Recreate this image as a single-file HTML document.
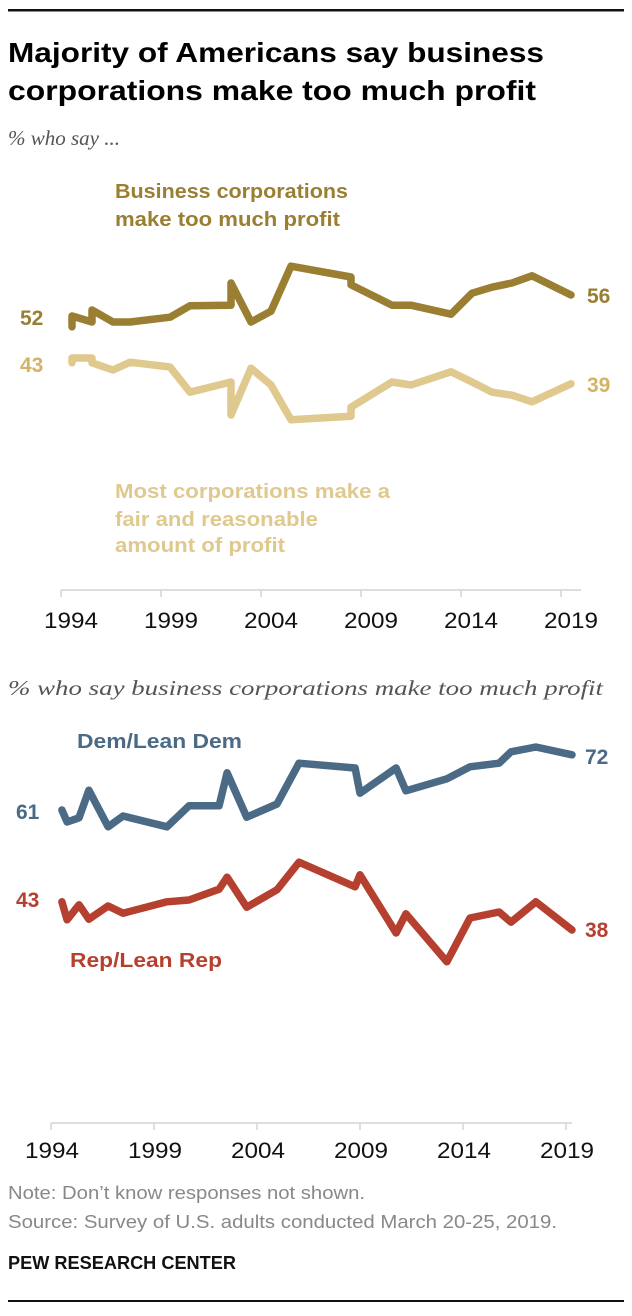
<!DOCTYPE html>
<html><head><meta charset="utf-8"><style>
html,body{margin:0;padding:0;background:#fff;}
svg{display:block;}
.t{font-family:"Liberation Sans",Arial,sans-serif;}
.s{font-family:"Liberation Serif",serif;font-style:italic;fill:#555;font-size:21px;}
</style></head><body>
<svg id="chart" width="632" height="1316" viewBox="0 0 632 1316" xmlns="http://www.w3.org/2000/svg">
<rect x="8" y="9" width="616" height="2.5" fill="#111"/>
<text class="t" x="8" y="62" font-size="28" font-weight="bold" textLength="536" lengthAdjust="spacingAndGlyphs">Majority of Americans say business</text>
<text class="t" x="8" y="100" font-size="28" font-weight="bold" textLength="528" lengthAdjust="spacingAndGlyphs">corporations make too much profit</text>
<text class="s" x="8" y="145">% who say ...</text>
<text class="t" x="115" y="198" font-size="20" font-weight="bold" fill="#9a7f32" textLength="233" lengthAdjust="spacingAndGlyphs">Business corporations</text>
<text class="t" x="115" y="226" font-size="20" font-weight="bold" fill="#9a7f32" textLength="225" lengthAdjust="spacingAndGlyphs">make too much profit</text>
<text class="t" x="115" y="498" font-size="20" font-weight="bold" fill="#e0c98e" textLength="275" lengthAdjust="spacingAndGlyphs">Most corporations make a</text>
<text class="t" x="115" y="526" font-size="20" font-weight="bold" fill="#e0c98e" textLength="203" lengthAdjust="spacingAndGlyphs">fair and reasonable</text>
<text class="t" x="115" y="552" font-size="20" font-weight="bold" fill="#e0c98e" textLength="170" lengthAdjust="spacingAndGlyphs">amount of profit</text>
<text class="t" x="20" y="325" font-size="21" font-weight="bold" fill="#9a7f32">52</text>
<text class="t" x="20" y="372" font-size="21" font-weight="bold" fill="#d4b365">43</text>
<text class="t" x="587" y="303" font-size="21" font-weight="bold" fill="#9a7f32">56</text>
<text class="t" x="587" y="392" font-size="21" font-weight="bold" fill="#d4b365">39</text>
<text class="s" x="8" y="695" textLength="595" lengthAdjust="spacingAndGlyphs">% who say business corporations make too much profit</text>
<text class="t" x="77" y="748" font-size="20" font-weight="bold" fill="#4a6a85" textLength="165" lengthAdjust="spacingAndGlyphs">Dem/Lean Dem</text>
<text class="t" x="70" y="967" font-size="20" font-weight="bold" fill="#b5402f" textLength="152" lengthAdjust="spacingAndGlyphs">Rep/Lean Rep</text>
<text class="t" x="16" y="819" font-size="21" font-weight="bold" fill="#4a6a85">61</text>
<text class="t" x="16" y="907" font-size="21" font-weight="bold" fill="#b5402f">43</text>
<text class="t" x="585" y="764" font-size="21" font-weight="bold" fill="#4a6a85">72</text>
<text class="t" x="585" y="937" font-size="21" font-weight="bold" fill="#b5402f">38</text>
<text class="t" x="8" y="1199" font-size="18" fill="#888" textLength="357" lengthAdjust="spacingAndGlyphs">Note: Don’t know responses not shown.</text>
<text class="t" x="8" y="1228" font-size="18" fill="#888" textLength="549" lengthAdjust="spacingAndGlyphs">Source: Survey of U.S. adults conducted March 20-25, 2019.</text>
<text class="t" x="8" y="1269" font-size="18" font-weight="bold" fill="#111" textLength="228" lengthAdjust="spacingAndGlyphs">PEW RESEARCH CENTER</text>
<rect x="8" y="1300" width="616" height="2" fill="#111"/>
<g id="g1"></g><g id="g2"></g>
</svg>
<script>
const tickYears = [1994, 1999, 2004, 2009, 2014, 2019];
const topYears = [1994.55,1994.55,1995.55,1995.55,1996.6,1997.45,1999.45,2000.45,2002.5,2002.5,2003.5,2004.5,2005.5,2008.5,2008.5,2010.55,2011.5,2013.5,2014.55,2015.55,2016.55,2017.55,2019.5];
const tooMuch = [52.2,54,53,55,53,53,53.8,55.7,55.8,59.5,53,54.8,62.3,60.5,59.2,55.8,55.8,54.3,57.8,58.8,59.5,60.7,57.5];
const topYearsFair = [1994.55,1994.55,1995.55,1995.55,1996.6,1997.45,1999.45,2000.45,2002.5,2002.5,2003.5,2004.5,2005.5,2008.5,2008.5,2010.55,2011.5,2013.5,2014.55,2015.55,2016.55,2017.55,2019.5];
const fair = [46.2,47,47,46.2,45,46.3,45.5,41.3,43,37.5,45.3,42.5,36.7,37.3,38.8,43,42.5,44.7,43,41.3,40.8,39.7,42.7];
const botYears = [1994.53,1994.78,1995.36,1995.84,1996.77,1997.5,1999.63,2000.7,2002.16,2002.55,2003.5,2004.97,2006.04,2008.76,2009,2010.75,2011.23,2013.22,2014.34,2015.75,2016.33,2017.54,2019.29];
const dem = [65,63,63.7,68.3,62.2,64,62.2,65.7,65.7,71.2,63.8,66,72.8,72,67.8,72,68.2,70.2,72.2,72.8,74.7,75.5,74.2];
const rep = [49.7,46.7,49.2,46.8,49,47.8,49.7,50,51.8,53.8,48.8,51.7,56.3,52.2,54.2,44.5,47.7,39.7,47,48,46.3,49.7,45];

const NS='http://www.w3.org/2000/svg';
const xTop = y => 61 + (y-1994)*20;
const yTop = v => 640 - 6*v;
const xBot = y => 51 + (y-1994)*20.6;
const yBot = v => 1200 - 6*v;

function axis(g, xs, yAxis, x0, x1, labelY, labelOff, prefix){
  const l=document.createElementNS(NS,'line');
  l.setAttribute('x1',x0);l.setAttribute('x2',x1);l.setAttribute('y1',yAxis);l.setAttribute('y2',yAxis);
  l.setAttribute('stroke','#d4d4d4');l.setAttribute('stroke-width','1.5');
  
  
  g.appendChild(l);
  tickYears.forEach(t=>{
    const tk=document.createElementNS(NS,'line');
    tk.setAttribute('x1',xs(t));tk.setAttribute('x2',xs(t));tk.setAttribute('y1',yAxis);tk.setAttribute('y2',yAxis+7);
    tk.setAttribute('stroke','#d4d4d4');tk.setAttribute('stroke-width','1.5');
    
    
    g.appendChild(tk);
    const tx=document.createElementNS(NS,'text');
    tx.setAttribute('x',xs(t)+labelOff-27);tx.setAttribute('y',labelY);
    tx.setAttribute('class','t');tx.setAttribute('font-size','22');tx.setAttribute('fill','#111');
    tx.setAttribute('textLength','54');tx.setAttribute('lengthAdjust','spacingAndGlyphs');
    tx.textContent=t;
    
    
    g.appendChild(tx);
  });
}
function line(g, xs, ys, years, vals, color, name){
  const p=document.createElementNS(NS,'polyline');
  p.setAttribute('points',years.map((y,i)=>xs(y).toFixed(1)+','+ys(vals[i]).toFixed(1)).join(' '));
  p.setAttribute('fill','none');p.setAttribute('stroke',color);p.setAttribute('stroke-width','7.5');
  p.setAttribute('stroke-linejoin','round');p.setAttribute('stroke-linecap','round');
  
  
  g.appendChild(p);
}
const g1=document.getElementById('g1'), g2=document.getElementById('g2');
axis(g1,xTop,590,61,581,628,10,'top');
axis(g2,xBot,1123,51,572,1158,1,'bottom');
line(g1,xTop,yTop,topYearsFair,fair,'#e0c98e','fair-profit-line');
line(g1,xTop,yTop,topYears,tooMuch,'#9a7f32','too-much-profit-line');
line(g2,xBot,yBot,botYears,dem,'#4a6a85','dem-line');
line(g2,xBot,yBot,botYears,rep,'#b5402f','rep-line');
</script>
</body></html>
